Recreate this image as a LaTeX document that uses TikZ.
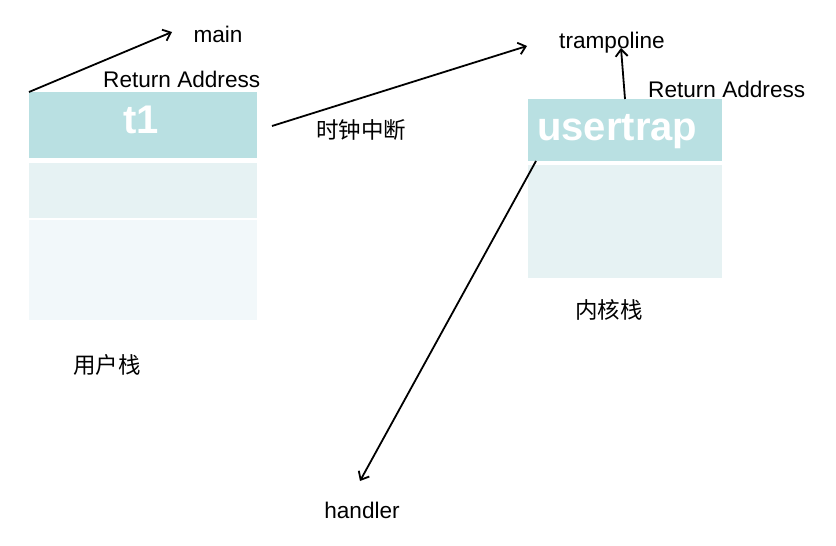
\documentclass[tikz,border=0pt]{standalone}
\usepackage{fontspec}
\setmainfont{Liberation Sans}
\newfontfamily\cjk{Noto Sans CJK SC}
\usetikzlibrary{positioning, arrows.meta}

\definecolor{framec}{RGB}{185,224,226}
\definecolor{midc}{RGB}{230,242,243}
\definecolor{lowc}{RGB}{242,248,250}

\begin{document}
\begin{tikzpicture}[x=1pt, y=-1pt, node distance=5pt,
	stack/.style={rectangle, inner sep=0pt, outer sep=0pt},
	topbox/.style={stack, fill=framec},
	midbox/.style={stack, fill=midc},
	lowbox/.style={stack, fill=lowc},
	lbl/.style={inner sep=0pt, font=\fontsize{22.6}{26}\selectfont},
	big/.style={inner sep=0pt, text=white, font=\fontsize{40}{44}\selectfont\bfseries},
	zh/.style={inner sep=0pt, font=\cjk\fontsize{22.5}{26}\selectfont},
	jump/.style={line width=1.8pt, -{Straight Barb[length=7pt, width=12pt]}}]
	\useasboundingbox (0,0) rectangle (836,546);

	% user stack
	\node (t1box) [topbox, minimum width=228pt, minimum height=66pt, anchor=north west] at (29,92) {};
	\node (ubox2) [midbox, minimum width=228pt, minimum height=55pt, below=5pt of t1box] {};
	\node (ubox3) [lowbox, minimum width=228pt, minimum height=100pt, below=2pt of ubox2] {};
	\node (t1) [big, anchor=base] at (141,133) {t1};
	\node (ustack) [zh] at (107,365) {用户栈};

	% kernel stack
	\node (utrap) [topbox, minimum width=194pt, minimum height=62pt, anchor=north west] at (528,99) {};
	\node (kbox2) [midbox, minimum width=194pt, minimum height=113pt, below=4pt of utrap] {};
	\node (usertrap) [big, anchor=base west] at (537,140) {usertrap};
	\node (kstack) [zh] at (609,310) {内核栈};

	% labels
	\node (main) [lbl, anchor=base] at (218,42) {main};
	\node (uret) [lbl, anchor=base west] at (103,87) {Return Address};
	\node (irq) [zh] at (361,130) {时钟中断};
	\node (tramp) [lbl, anchor=base] at (612,48) {trampoline};
	\node (kret) [lbl, anchor=base west] at (648,97) {Return Address};
	\node (handler) [lbl, anchor=base] at (362,518) {handler};

	\coordinate (main-tip) at (172,32);
	\coordinate (irq-start) at (272,126);
	\coordinate (irq-tip) at (527,46);
	\coordinate (tramp-tip) at (621,48);
	\coordinate (handler-tip) at (360,481);

	\draw[jump] (t1box.north west) -- (main-tip);
	\draw[jump] (irq-start) -- (irq-tip);
	\draw[jump] (utrap.north) -- (tramp-tip);
	\draw[jump] ([xshift=8pt]utrap.south west) -- (handler-tip);
\end{tikzpicture}
\end{document}
